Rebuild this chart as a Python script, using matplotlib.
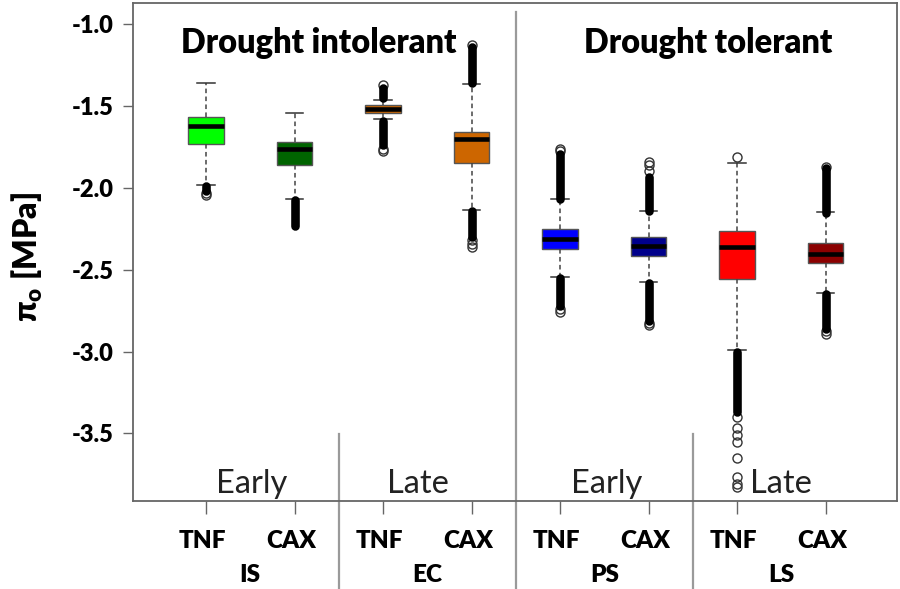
import matplotlib
matplotlib.use("Agg")
import matplotlib.pyplot as plt
from matplotlib.transforms import blended_transform_factory

plt.rcParams['font.family'] = ['Lato', 'DejaVu Sans']
plt.rcParams['mathtext.default'] = 'regular'

# box statistics (MPa)
labels = ["TNF", "CAX", "TNF", "CAX", "TNF", "CAX", "TNF", "CAX"]
species = ["IS", "EC", "PS", "LS"]
timing = ["Early", "Late", "Early", "Late"]
colors = ["#00FF00", "#006400", "#CD6600", "#CD6600",
          "#0000FF", "#00008B", "#FF0000", "#8B0000"]

whis_hi = [-1.359, -1.543, -1.461, -1.366, -2.069, -2.138, -1.845, -2.144]
q3 = [-1.564, -1.716, -1.494, -1.659, -2.250, -2.301, -2.260, -2.334]
median = [-1.620, -1.763, -1.514, -1.700, -2.309, -2.352, -2.358, -2.403]
q1 = [-1.730, -1.859, -1.540, -1.845, -2.370, -2.413, -2.556, -2.456]
whis_lo = [-1.981, -2.069, -1.580, -2.134, -2.541, -2.576, -2.990, -2.643]

# stretches where outliers overlap into a solid bar (low, high), per box
dense_runs = [
    [(-2.02, -1.99)],
    [(-2.235, -2.075)],
    [(-1.45, -1.39), (-1.74, -1.59)],
    [(-1.36, -1.14), (-2.30, -2.14)],
    [(-2.07, -1.79), (-2.72, -2.55)],
    [(-2.14, -1.93), (-2.81, -2.58)],
    [(-3.37, -3.00)],
    [(-2.15, -1.88), (-2.86, -2.65)],
]
# single outliers that are still visible as circles
fliers = [
    [-2.03, -2.045],
    [],
    [-1.37, -1.76, -1.775],
    [-1.125, -2.32, -2.34, -2.36],
    [-1.775, -1.76, -2.74, -2.755],
    [-1.895, -1.86, -1.84, -2.825, -2.835],
    [-1.812, -3.40, -3.465, -3.51, -3.55, -3.65, -3.765, -3.81, -3.83],
    [-1.87, -2.875, -2.89],
]

positions = list(range(1, len(labels) + 1))

fig = plt.figure(figsize=(9, 5.89), dpi=100)
ax = fig.add_axes([0.1478, 0.1494, 0.8489, 0.8455])

stats = []
for i in range(len(labels)):
    stats.append(dict(med=median[i], q1=q1[i], q3=q3[i],
                      whislo=whis_lo[i], whishi=whis_hi[i], fliers=fliers[i]))

bp = ax.bxp(stats, positions=positions, widths=0.4, patch_artist=True,
            showfliers=True,
            boxprops=dict(edgecolor="#555555", linewidth=1.0),
            medianprops=dict(color="black", linewidth=3.3, solid_capstyle="butt"),
            whiskerprops=dict(color="#444444", linewidth=1.1, linestyle=(0, (3, 2.2))),
            capprops=dict(color="#333333", linewidth=1.1),
            capwidths=0.2,
            flierprops=dict(marker="o", markersize=6.5, markerfacecolor="none",
                            markeredgecolor="#333333", markeredgewidth=1.0))
for patch, c in zip(bp["boxes"], colors):
    patch.set_facecolor(c)

for x, runs in zip(positions, dense_runs):
    for lo, hi in runs:
        ax.plot([x, x], [lo, hi], color="black", linewidth=6.2,
                solid_capstyle="round", zorder=3)

ax.set_xlim(0.175, 8.808)
ax.set_ylim(-3.913, -0.869)

yt = [-1.0, -1.5, -2.0, -2.5, -3.0, -3.5]
ax.set_yticks(yt)
ax.set_yticklabels(["%.1f" % v for v in yt], fontsize=17, fontweight="heavy")
ax.tick_params(axis="y", length=7, width=1, color="#666666", pad=7)
ax.set_xticks(positions)
ax.set_xticklabels([])
ax.tick_params(axis="x", length=9, width=1, color="#666666")

for s in ax.spines.values():
    s.set_color("#666666")
    s.set_linewidth(1.3)

ax.set_ylabel(r"$\pi_o$ [MPa]", fontsize=23, fontweight="heavy")
ax.yaxis.set_label_coords(-0.115, 0.49)

trans = blended_transform_factory(ax.transData, ax.transAxes)

# separators between species
ax.plot([4.5, 4.5], [-0.18, 0.982], transform=trans, color="#9a9a9a",
        linewidth=1.6, clip_on=False)
for xs in (2.5, 6.5):
    ax.plot([xs, xs], [-0.18, 0.135], transform=trans, color="#9a9a9a",
            linewidth=1.6, clip_on=False)

for x, lab in zip(positions, labels):
    ax.text(x - 0.04, -0.081, lab, transform=trans,
            ha="center", va="center", fontsize=17.5, fontweight="heavy")

timing_shift = [0.014, -0.105, 0.03, 0.0]
for k, sp in enumerate(species):
    xc = 2 * k + 1.5
    ax.text(xc, -0.148, sp, transform=trans, ha="center", va="center",
            fontsize=17.5, fontweight="heavy")
    ax.text(xc + timing_shift[k], 0.034, timing[k], transform=trans,
            ha="center", va="center", fontsize=23.5, color="#222222")

ax.text(2.27, 0.92, "Drought intolerant", transform=trans, ha="center",
        va="center", fontsize=23.5, fontweight="heavy")
ax.text(6.67, 0.92, "Drought tolerant", transform=trans, ha="center",
        va="center", fontsize=23.5, fontweight="heavy")

fig.savefig("out.png", dpi=100)
